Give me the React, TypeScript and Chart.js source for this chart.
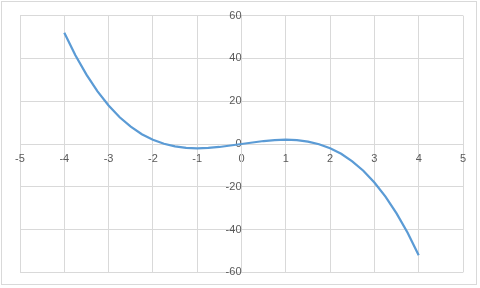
import React, { useEffect, useRef } from "react";
import { Chart, registerables } from "chart.js";

Chart.register(...registerables);

const xValues = [
  -4, -3.75, -3.5, -3.25, -3, -2.75, -2.5, -2.25, -2, -1.75, -1.5, -1.25, -1, -0.75, -0.5, -0.25,
  0, 0.25, 0.5, 0.75, 1, 1.25, 1.5, 1.75, 2, 2.25, 2.5, 2.75, 3, 3.25, 3.5, 3.75, 4,
];
const yValues = [
  52, 41.5, 32.4, 24.6, 18, 12.5, 8.1, 4.6, 2, 0.1, -1.1, -1.8, -2, -1.8, -1.4, -0.7,
  0, 0.7, 1.4, 1.8, 2, 1.8, 1.1, -0.1, -2, -4.6, -8.1, -12.5, -18, -24.6, -32.4, -41.5, -52,
];
const xTicks = [-5, -4, -3, -2, -1, 0, 1, 2, 3, 4, 5];
const yTicks = [-60, -40, -20, 0, 20, 40, 60];

export default function App() {
  const canvasRef = useRef<HTMLCanvasElement | null>(null);

  useEffect(() => {
    document.body.style.margin = "0";
    const canvas = canvasRef.current;
    if (!canvas) return;
    const points = xValues.map((x, i) => ({ x, y: yValues[i] }));
    const gridColor = "#d9d9d9";
    const font = { family: "'Liberation Sans', Arial, sans-serif", size: 11 };
    const chart = new Chart(canvas, {
      type: "scatter",
      data: {
        datasets: [
          {
            data: points,
            showLine: true,
            borderColor: "#5b9bd5",
            backgroundColor: "#5b9bd5",
            borderWidth: 2.25,
            pointRadius: 0,
            tension: 0,
          },
        ],
      },
      options: {
        animation: false,
        responsive: false,
        maintainAspectRatio: false,
        layout: { padding: { left: 20, top: 14, right: 17, bottom: 12 } },
        plugins: { legend: { display: false }, tooltip: { enabled: false } },
        scales: {
          x: {
            type: "linear",
            position: { y: 0 } as any,
            min: xTicks[0],
            max: xTicks[xTicks.length - 1],
            afterBuildTicks: (s: any) => {
              s.ticks = xTicks.map((v) => ({ value: v }));
            },
            ticks: { color: "#595959", font, padding: 8, maxRotation: 0, autoSkip: false },
            grid: { color: gridColor, drawTicks: false, lineWidth: 1 },
            border: { color: gridColor, width: 1 },
          },
          y: {
            type: "linear",
            position: { x: 0 } as any,
            min: yTicks[0],
            max: yTicks[yTicks.length - 1],
            afterBuildTicks: (s: any) => {
              s.ticks = yTicks.map((v) => ({ value: v }));
            },
            ticks: { color: "#595959", font, padding: 9, autoSkip: false },
            grid: { color: gridColor, drawTicks: false, lineWidth: 1 },
            border: { color: gridColor, width: 1 },
          },
        },
      },
    });
    return () => chart.destroy();
  }, []);

  return (
    <div style={{ position: "relative", width: 480, height: 288, background: "#fff" }}>
      <div
        style={{
          position: "absolute",
          left: 1,
          top: 1,
          width: 476,
          height: 284,
          border: "1px solid #d9d9d9",
          boxSizing: "border-box",
        }}
      />
      <canvas
        ref={canvasRef}
        width={480}
        height={288}
        style={{ position: "absolute", left: 0, top: 0, width: 480, height: 288 }}
      />
    </div>
  );
}
